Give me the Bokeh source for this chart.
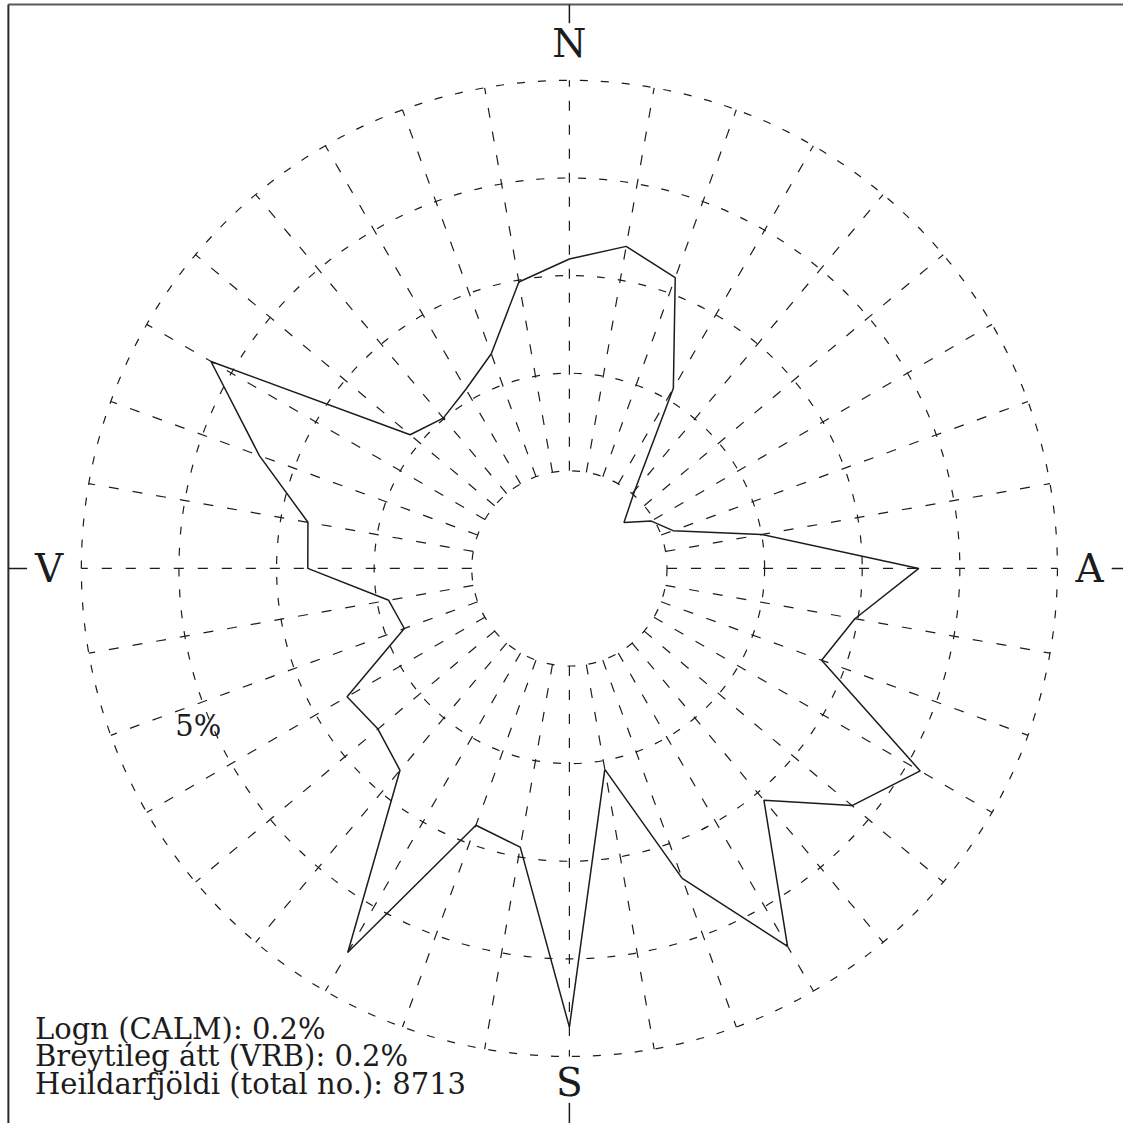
import math
from bokeh.plotting import figure
from bokeh.models import Range1d
from bokeh.core.properties import value
from bokeh.embed import file_html
from bokeh.resources import INLINE

# ---------------- data ----------------
directions_deg = list(range(0, 360, 10))
frequency_pct = [3.17, 3.35, 3.17, 2.13, 1.04, 0.73, 0.97, 1.13, 2.00, 3.58,
                 2.97, 2.75, 4.15, 3.78, 3.10, 4.47, 3.38, 2.09, 4.70, 2.90,
                 2.80, 4.54, 2.70, 2.56, 2.63, 1.80, 1.88, 2.68, 2.72, 3.38,
                 4.24, 2.13, 2.01, 2.12, 2.34, 2.98]
ring_levels_pct = [1, 2, 3, 4, 5]
compass_labels = ["N", "A", "S", "V"]
compass_bearings = [0, 90, 180, 270]
scale_label = "5%"
info_lines = ["Logn (CALM): 0.2%",
              "Breytileg átt (VRB): 0.2%",
              "Heildarfjöldi (total no.): 8713"]

# ---------------- geometry / style ----------------
W = H = 1123
REF = 1139.0       # design grid (pixels of the original picture)
PX = 99.0          # design pixels per 1 %
CX, CY = 577, 576  # design-pixel position of the rose centre
K = W / REF        # design px -> screen px
INK = "#1c1c1c"
FONT = value("DejaVu Serif")

def xy(r, bdeg):
    b = math.radians(bdeg)
    return r * math.sin(b), r * math.cos(b)

def dx(px):
    return (px - CX) / PX

def dy(py):
    return (CY - py) / PX

p = figure(width=W, height=H, output_backend="svg", toolbar_location=None,
           x_range=Range1d(dx(0), dx(REF)), y_range=Range1d(dy(REF), dy(0)),
           x_axis_type=None, y_axis_type=None, min_border=0)
p.grid.visible = False
p.outline_line_color = None
p.background_fill_color = "white"
p.border_fill_color = "white"

# frame lines (top and left) of the original sheet
p.line(x=[dx(8), dx(REF + 20)], y=[dy(4), dy(4)], line_color="#5a5a5a", line_width=2)
p.line(x=[dx(8), dx(8)], y=[dy(4), dy(REF + 20)], line_color="#2a2a2a", line_width=2)

# dashed rings
for lv in ring_levels_pct:
    p.circle(x=[0], y=[0], radius=lv, fill_color=None, line_color=INK,
             line_width=1.2, line_dash="8 13")

# dashed spokes
r_in, r_out = ring_levels_pct[0], ring_levels_pct[-1]
p.segment(x0=[xy(r_in, d)[0] for d in directions_deg],
          y0=[xy(r_in, d)[1] for d in directions_deg],
          x1=[xy(r_out, d)[0] for d in directions_deg],
          y1=[xy(r_out, d)[1] for d in directions_deg],
          line_color=INK, line_width=1.2, line_dash="10 14")

# solid ticks at the cardinal points, reaching the sheet edge
tick_inner = [5.586, 5.556, 5.475, 5.556]
tick_outer = [5.778, 7.0, 7.0, 5.747]
p.segment(x0=[xy(r, b)[0] for r, b in zip(tick_inner, compass_bearings)],
          y0=[xy(r, b)[1] for r, b in zip(tick_inner, compass_bearings)],
          x1=[xy(r, b)[0] for r, b in zip(tick_outer, compass_bearings)],
          y1=[xy(r, b)[1] for r, b in zip(tick_outer, compass_bearings)],
          line_color=INK, line_width=1.5)

# the wind rose polygon
p.patch(x=[xy(v, d)[0] for v, d in zip(frequency_pct, directions_deg)],
        y=[xy(v, d)[1] for v, d in zip(frequency_pct, directions_deg)],
        fill_color=None, line_color=INK, line_width=1.5)

# compass labels
label_r = [5.38, 5.33, 5.27, 5.33]
p.text(x=[xy(r, b)[0] for r, b in zip(label_r, compass_bearings)],
       y=[xy(r, b)[1] for r, b in zip(label_r, compass_bearings)],
       text=compass_labels, text_font=FONT, text_font_size=f"{round(40 * K)}px",
       text_align="center", text_baseline="middle", text_color=INK)

# scale label
sx, sy = xy(ring_levels_pct[-1] * 0.826, 247)
p.text(x=[sx], y=[sy], text=[scale_label], text_font=FONT,
       text_font_size=f"{round(29 * K)}px",
       text_align="center", text_baseline="middle", text_color=INK)

# info block
line_centres = [1043, 1071, 1099]
p.text(x=[dx(35)] * len(info_lines),
       y=[dy(c) for c in line_centres],
       text=info_lines, text_font=FONT, text_font_size=f"{round(29 * K)}px",
       text_align="left", text_baseline="middle", text_color=INK)

open("out.html", "w").write(file_html(p, INLINE))
